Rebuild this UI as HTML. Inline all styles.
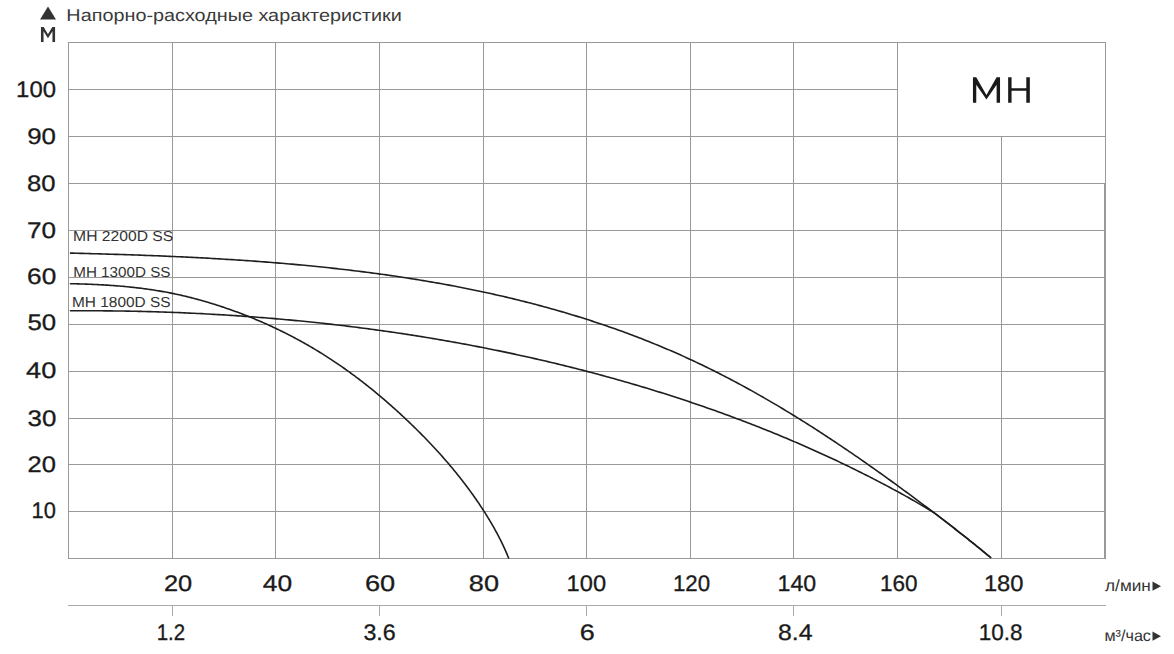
<!DOCTYPE html>
<html><head><meta charset="utf-8"><style>html,body{margin:0;padding:0;background:#fff;width:1174px;height:654px;overflow:hidden}svg{display:block}</style></head>
<body><svg width="1174" height="654" viewBox="0 0 1174 654">
<rect width="1174" height="654" fill="#fff"/>
<g stroke="#999" stroke-width="1" fill="none" shape-rendering="crispEdges"><line x1="68" y1="42.5" x2="1106" y2="42.5"/><line x1="68" y1="89.5" x2="898" y2="89.5"/><line x1="68" y1="136.5" x2="1106" y2="136.5"/><line x1="68" y1="183.5" x2="1106" y2="183.5"/><line x1="68" y1="230.5" x2="1106" y2="230.5"/><line x1="68" y1="277.5" x2="1106" y2="277.5"/><line x1="68" y1="324.5" x2="1106" y2="324.5"/><line x1="68" y1="371.5" x2="1106" y2="371.5"/><line x1="68" y1="418.5" x2="1106" y2="418.5"/><line x1="68" y1="464.5" x2="1106" y2="464.5"/><line x1="68" y1="511.5" x2="1106" y2="511.5"/><line x1="68" y1="558.5" x2="1106" y2="558.5"/><line x1="68.5" y1="42" x2="68.5" y2="559"/><line x1="172.5" y1="42" x2="172.5" y2="559"/><line x1="275.5" y1="42" x2="275.5" y2="559"/><line x1="379.5" y1="42" x2="379.5" y2="559"/><line x1="483.5" y1="42" x2="483.5" y2="559"/><line x1="586.5" y1="42" x2="586.5" y2="559"/><line x1="690.5" y1="42" x2="690.5" y2="559"/><line x1="793.5" y1="42" x2="793.5" y2="559"/><line x1="897.5" y1="42" x2="897.5" y2="559"/><line x1="1001.5" y1="136" x2="1001.5" y2="559"/><line x1="1105.5" y1="42" x2="1105.5" y2="559"/><line x1="1104.5" y1="183" x2="1104.5" y2="559"/><line x1="68" y1="605.5" x2="1106" y2="605.5" stroke="#aaa"/><line x1="172.5" y1="605" x2="172.5" y2="616" stroke="#aaa"/><line x1="379.5" y1="605" x2="379.5" y2="616" stroke="#aaa"/><line x1="586.5" y1="605" x2="586.5" y2="616" stroke="#aaa"/><line x1="793.5" y1="605" x2="793.5" y2="616" stroke="#aaa"/><line x1="1001.5" y1="605" x2="1001.5" y2="616" stroke="#aaa"/></g>
<g stroke="#1e1e1e" stroke-width="1.6" fill="none" stroke-linecap="round"><path d="M70.50,253.10 L72.96,253.16 L75.43,253.22 L77.89,253.29 L80.35,253.35 L82.82,253.41 L85.28,253.48 L87.75,253.54 L90.22,253.61 L92.68,253.68 L95.15,253.75 L97.62,253.81 L100.09,253.88 L102.57,253.96 L105.04,254.03 L107.51,254.10 L109.99,254.18 L112.46,254.25 L114.94,254.33 L117.41,254.41 L119.89,254.48 L122.37,254.56 L124.85,254.65 L127.33,254.73 L129.81,254.81 L132.29,254.90 L134.77,254.98 L137.25,255.07 L139.73,255.16 L142.22,255.25 L144.70,255.34 L147.18,255.44 L149.67,255.53 L152.15,255.63 L154.64,255.72 L157.13,255.82 L159.61,255.92 L162.10,256.03 L164.59,256.13 L167.08,256.24 L169.57,256.34 L172.06,256.45 L174.55,256.56 L177.04,256.68 L179.53,256.79 L182.02,256.91 L184.51,257.02 L187.00,257.14 L189.50,257.27 L191.99,257.39 L194.48,257.51 L196.97,257.64 L199.47,257.77 L201.96,257.90 L204.46,258.04 L206.95,258.17 L209.45,258.31 L211.94,258.45 L214.43,258.59 L216.93,258.73 L219.43,258.88 L221.92,259.03 L224.42,259.18 L226.91,259.33 L229.41,259.49 L231.90,259.64 L234.40,259.80 L236.90,259.96 L239.39,260.13 L241.89,260.29 L244.38,260.46 L246.88,260.64 L249.38,260.81 L251.87,260.99 L254.37,261.16 L256.87,261.35 L259.36,261.53 L261.86,261.72 L264.35,261.91 L266.85,262.10 L269.35,262.29 L271.84,262.49 L274.34,262.69 L276.83,262.89 L279.33,263.10 L281.82,263.30 L284.32,263.52 L286.81,263.73 L289.31,263.95 L291.80,264.17 L294.30,264.39 L296.79,264.61 L299.28,264.84 L301.78,265.07 L304.27,265.31 L306.76,265.55 L309.25,265.79 L311.75,266.03 L314.24,266.28 L316.73,266.53 L319.22,266.78 L321.71,267.03 L324.20,267.29 L326.69,267.56 L329.18,267.82 L331.67,268.09 L334.15,268.36 L336.64,268.64 L339.13,268.92 L341.61,269.20 L344.10,269.49 L346.59,269.78 L349.07,270.07 L351.55,270.37 L354.04,270.67 L356.52,270.97 L359.00,271.28 L361.49,271.59 L363.97,271.90 L366.45,272.22 L368.93,272.54 L371.41,272.87 L373.88,273.19 L376.36,273.53 L378.84,273.86 L381.32,274.20 L383.79,274.55 L386.27,274.90 L388.74,275.25 L391.21,275.60 L393.68,275.96 L396.16,276.32 L398.63,276.69 L401.10,277.06 L403.56,277.44 L406.03,277.82 L408.50,278.20 L410.97,278.59 L413.43,278.98 L415.89,279.38 L418.36,279.78 L420.82,280.18 L423.28,280.59 L425.74,281.00 L428.20,281.42 L430.66,281.84 L433.12,282.26 L435.57,282.69 L438.03,283.13 L440.48,283.57 L442.93,284.01 L445.39,284.46 L447.84,284.91 L450.29,285.37 L452.73,285.83 L455.18,286.29 L457.63,286.76 L460.07,287.24 L462.52,287.71 L464.96,288.20 L467.40,288.69 L469.84,289.18 L472.28,289.68 L474.71,290.18 L477.15,290.69 L479.58,291.20 L482.02,291.72 L484.45,292.24 L486.88,292.76 L489.31,293.30 L491.74,293.83 L494.16,294.37 L496.59,294.92 L499.01,295.47 L501.43,296.03 L503.85,296.59 L506.27,297.15 L508.69,297.73 L511.11,298.30 L513.52,298.88 L515.93,299.47 L518.34,300.06 L520.75,300.66 L523.16,301.26 L525.57,301.87 L527.97,302.48 L530.38,303.10 L532.78,303.72 L535.18,304.35 L537.58,304.99 L539.98,305.63 L542.37,306.27 L544.76,306.92 L547.16,307.58 L549.55,308.24 L551.93,308.91 L554.32,309.58 L556.71,310.26 L559.09,310.94 L561.47,311.63 L563.85,312.33 L566.23,313.03 L568.60,313.73 L570.98,314.45 L573.35,315.17 L575.72,315.89 L578.09,316.62 L580.45,317.35 L582.82,318.10 L585.18,318.84 L587.54,319.60 L589.90,320.35 L592.25,321.12 L594.61,321.89 L596.96,322.67 L599.31,323.45 L601.66,324.24 L604.01,325.04 L606.35,325.84 L608.69,326.64 L611.03,327.46 L613.37,328.28 L615.71,329.10 L618.04,329.94 L620.37,330.77 L622.70,331.62 L625.03,332.47 L627.35,333.33 L629.68,334.19 L632.00,335.06 L634.31,335.94 L636.63,336.82 L638.94,337.71 L641.26,338.60 L643.56,339.51 L645.87,340.42 L648.18,341.33 L650.48,342.25 L652.78,343.18 L655.07,344.12 L657.37,345.06 L659.66,346.01 L661.95,346.96 L664.24,347.93 L666.53,348.89 L668.81,349.87 L671.09,350.85 L673.37,351.84 L675.64,352.84 L677.91,353.84 L680.19,354.85 L682.45,355.87 L684.72,356.89 L686.98,357.92 L689.24,358.96 L691.50,360.00 L693.75,361.06 L696.01,362.11 L698.26,363.18 L700.50,364.25 L702.75,365.33 L704.99,366.42 L707.23,367.51 L709.46,368.61 L711.70,369.71 L713.93,370.83 L716.16,371.94 L718.38,373.07 L720.61,374.20 L722.83,375.34 L725.05,376.48 L727.26,377.63 L729.48,378.79 L731.69,379.95 L733.90,381.12 L736.10,382.29 L738.30,383.47 L740.50,384.66 L742.70,385.85 L744.90,387.05 L747.09,388.25 L749.28,389.46 L751.47,390.67 L753.65,391.89 L755.84,393.12 L758.01,394.35 L760.19,395.58 L762.37,396.82 L764.54,398.07 L766.71,399.32 L768.87,400.58 L771.04,401.84 L773.20,403.11 L775.36,404.38 L777.52,405.65 L779.67,406.93 L781.82,408.22 L783.97,409.51 L786.12,410.81 L788.26,412.11 L790.40,413.41 L792.54,414.72 L794.67,416.03 L796.81,417.35 L798.94,418.67 L801.07,420.00 L803.19,421.33 L805.32,422.66 L807.44,424.00 L809.55,425.34 L811.67,426.69 L813.78,428.04 L815.89,429.40 L818.00,430.75 L820.10,432.12 L822.21,433.48 L824.31,434.85 L826.40,436.22 L828.50,437.60 L830.59,438.98 L832.68,440.36 L834.77,441.75 L836.85,443.14 L838.94,444.54 L841.02,445.93 L843.09,447.33 L845.17,448.73 L847.24,450.14 L849.31,451.55 L851.37,452.96 L853.44,454.38 L855.50,455.79 L857.56,457.21 L859.62,458.64 L861.67,460.06 L863.72,461.49 L865.77,462.92 L867.82,464.36 L869.86,465.79 L871.90,467.23 L873.94,468.67 L875.98,470.11 L878.01,471.56 L880.04,473.00 L882.07,474.45 L884.10,475.90 L886.12,477.36 L888.14,478.81 L890.16,480.27 L892.18,481.73 L894.19,483.19 L896.20,484.65 L898.21,486.11 L900.21,487.58 L902.22,489.05 L904.22,490.52 L906.22,491.99 L908.21,493.46 L910.20,494.93 L912.20,496.40 L914.18,497.88 L916.17,499.35 L918.15,500.83 L920.13,502.31 L922.11,503.79 L924.09,505.27 L926.06,506.75 L928.03,508.23 L930.00,509.72 L931.97,511.21 L933.93,512.70 L935.89,514.19 L937.86,515.68 L939.82,517.18 L941.78,518.67 L943.73,520.18 L945.69,521.68 L947.64,523.19 L949.60,524.70 L951.55,526.21 L953.50,527.73 L955.46,529.25 L957.41,530.78 L959.36,532.31 L961.31,533.84 L963.26,535.38 L965.21,536.93 L967.16,538.47 L969.11,540.03 L971.06,541.59 L973.01,543.15 L974.96,544.72 L976.91,546.30 L978.87,547.88 L980.82,549.47 L982.77,551.06 L984.73,552.66 L986.68,554.27 L988.64,555.88 L990.60,557.50"/><path d="M70.50,310.80 L72.93,310.79 L75.35,310.77 L77.78,310.76 L80.21,310.76 L82.63,310.75 L85.06,310.75 L87.49,310.75 L89.92,310.76 L92.34,310.76 L94.77,310.77 L97.20,310.78 L99.63,310.80 L102.05,310.81 L104.48,310.83 L106.91,310.85 L109.34,310.87 L111.77,310.90 L114.19,310.93 L116.62,310.96 L119.05,310.99 L121.48,311.03 L123.91,311.07 L126.34,311.11 L128.77,311.15 L131.19,311.20 L133.62,311.25 L136.05,311.30 L138.48,311.35 L140.91,311.41 L143.34,311.47 L145.77,311.53 L148.19,311.60 L150.62,311.66 L153.05,311.73 L155.48,311.80 L157.91,311.88 L160.34,311.96 L162.77,312.04 L165.20,312.12 L167.62,312.20 L170.05,312.29 L172.48,312.38 L174.91,312.48 L177.34,312.57 L179.77,312.67 L182.20,312.77 L184.62,312.87 L187.05,312.98 L189.48,313.09 L191.91,313.20 L194.34,313.32 L196.76,313.43 L199.19,313.55 L201.62,313.67 L204.05,313.80 L206.47,313.93 L208.90,314.06 L211.33,314.19 L213.76,314.33 L216.18,314.47 L218.61,314.61 L221.04,314.75 L223.46,314.90 L225.89,315.05 L228.32,315.20 L230.74,315.35 L233.17,315.51 L235.59,315.67 L238.02,315.84 L240.45,316.00 L242.87,316.17 L245.30,316.34 L247.72,316.52 L250.15,316.69 L252.57,316.87 L255.00,317.06 L257.42,317.24 L259.84,317.43 L262.27,317.62 L264.69,317.81 L267.11,318.01 L269.54,318.21 L271.96,318.41 L274.38,318.62 L276.80,318.83 L279.23,319.04 L281.65,319.25 L284.07,319.47 L286.49,319.69 L288.91,319.91 L291.33,320.13 L293.75,320.36 L296.17,320.59 L298.59,320.82 L301.01,321.06 L303.43,321.30 L305.85,321.54 L308.27,321.79 L310.69,322.04 L313.11,322.29 L315.53,322.54 L317.94,322.80 L320.36,323.06 L322.78,323.32 L325.19,323.58 L327.61,323.85 L330.03,324.12 L332.44,324.40 L334.86,324.68 L337.27,324.96 L339.69,325.24 L342.10,325.52 L344.51,325.81 L346.93,326.11 L349.34,326.40 L351.75,326.70 L354.17,327.00 L356.58,327.30 L358.99,327.61 L361.40,327.92 L363.81,328.23 L366.22,328.55 L368.63,328.87 L371.04,329.19 L373.45,329.51 L375.86,329.84 L378.27,330.17 L380.67,330.50 L383.08,330.84 L385.49,331.18 L387.89,331.52 L390.30,331.87 L392.70,332.22 L395.11,332.57 L397.51,332.93 L399.92,333.28 L402.32,333.64 L404.72,334.01 L407.13,334.38 L409.53,334.75 L411.93,335.12 L414.33,335.50 L416.73,335.88 L419.13,336.26 L421.53,336.64 L423.93,337.03 L426.33,337.43 L428.73,337.82 L431.12,338.22 L433.52,338.62 L435.92,339.02 L438.31,339.43 L440.71,339.84 L443.10,340.26 L445.49,340.67 L447.89,341.09 L450.28,341.52 L452.67,341.94 L455.06,342.37 L457.46,342.81 L459.85,343.24 L462.24,343.68 L464.62,344.12 L467.01,344.57 L469.40,345.02 L471.79,345.47 L474.18,345.92 L476.56,346.38 L478.95,346.84 L481.33,347.31 L483.72,347.78 L486.10,348.25 L488.48,348.72 L490.87,349.20 L493.25,349.68 L495.63,350.16 L498.01,350.65 L500.39,351.14 L502.77,351.64 L505.14,352.13 L507.52,352.63 L509.90,353.14 L512.28,353.64 L514.65,354.15 L517.03,354.67 L519.40,355.18 L521.77,355.70 L524.15,356.23 L526.52,356.75 L528.89,357.28 L531.26,357.82 L533.63,358.35 L536.00,358.89 L538.37,359.44 L540.73,359.98 L543.10,360.53 L545.47,361.09 L547.83,361.64 L550.19,362.20 L552.56,362.76 L554.92,363.33 L557.28,363.90 L559.64,364.47 L562.01,365.05 L564.36,365.63 L566.72,366.21 L569.08,366.80 L571.44,367.39 L573.80,367.98 L576.15,368.58 L578.51,369.18 L580.86,369.78 L583.21,370.39 L585.56,371.00 L587.92,371.62 L590.27,372.23 L592.62,372.85 L594.96,373.48 L597.31,374.10 L599.66,374.74 L602.01,375.37 L604.35,376.01 L606.70,376.65 L609.04,377.29 L611.38,377.94 L613.72,378.59 L616.06,379.25 L618.40,379.91 L620.74,380.57 L623.08,381.24 L625.41,381.91 L627.75,382.58 L630.08,383.26 L632.42,383.94 L634.75,384.62 L637.08,385.31 L639.41,386.00 L641.74,386.69 L644.07,387.39 L646.40,388.09 L648.72,388.80 L651.05,389.51 L653.37,390.22 L655.69,390.94 L658.01,391.66 L660.33,392.38 L662.65,393.11 L664.97,393.84 L667.29,394.57 L669.60,395.31 L671.92,396.06 L674.23,396.80 L676.54,397.55 L678.85,398.30 L681.16,399.06 L683.47,399.82 L685.78,400.59 L688.08,401.36 L690.39,402.13 L692.69,402.90 L694.99,403.68 L697.29,404.47 L699.59,405.25 L701.89,406.05 L704.18,406.84 L706.48,407.64 L708.77,408.44 L711.07,409.25 L713.36,410.06 L715.65,410.87 L717.93,411.69 L720.22,412.51 L722.50,413.34 L724.79,414.17 L727.07,415.00 L729.35,415.84 L731.63,416.68 L733.91,417.53 L736.18,418.38 L738.46,419.23 L740.73,420.09 L743.00,420.95 L745.28,421.82 L747.54,422.69 L749.81,423.56 L752.08,424.44 L754.34,425.32 L756.60,426.21 L758.86,427.10 L761.12,427.99 L763.38,428.89 L765.64,429.79 L767.89,430.69 L770.14,431.60 L772.40,432.52 L774.64,433.44 L776.89,434.36 L779.14,435.29 L781.38,436.22 L783.63,437.15 L785.87,438.09 L788.11,439.03 L790.34,439.98 L792.58,440.93 L794.81,441.89 L797.05,442.84 L799.28,443.81 L801.50,444.78 L803.73,445.75 L805.96,446.72 L808.18,447.71 L810.40,448.69 L812.62,449.68 L814.84,450.67 L817.05,451.67 L819.27,452.67 L821.48,453.68 L823.69,454.69 L825.90,455.70 L828.11,456.72 L830.31,457.74 L832.51,458.77 L834.71,459.80 L836.91,460.84 L839.11,461.88 L841.31,462.93 L843.50,463.97 L845.69,465.03 L847.88,466.09 L850.06,467.15 L852.25,468.21 L854.43,469.29 L856.61,470.36 L858.79,471.44 L860.97,472.53 L863.14,473.61 L865.32,474.71 L867.49,475.81 L869.66,476.91 L871.82,478.01 L873.99,479.12 L876.15,480.24 L878.31,481.36 L880.47,482.48 L882.62,483.61 L884.77,484.75 L886.93,485.89 L889.07,487.03 L891.22,488.18 L893.36,489.33 L895.50,490.49 L897.64,491.65 L899.77,492.82 L901.90,494.00 L904.03,495.17 L906.16,496.36 L908.28,497.55 L910.39,498.75 L912.50,499.95 L914.61,501.16 L916.72,502.37 L918.82,503.60 L920.91,504.82 L923.01,506.06 L925.09,507.30 L927.17,508.54 L929.25,509.80 L931.32,511.06 L933.93,512.70 L935.89,514.19 L937.86,515.68 L939.82,517.18 L941.78,518.67 L943.73,520.18 L945.69,521.68 L947.64,523.19 L949.60,524.70 L951.55,526.21 L953.50,527.73 L955.46,529.25 L957.41,530.78 L959.36,532.31 L961.31,533.84 L963.26,535.38 L965.21,536.93 L967.16,538.47 L969.11,540.03 L971.06,541.59 L973.01,543.15 L974.96,544.72 L976.91,546.30 L978.87,547.88 L980.82,549.47 L982.77,551.06 L984.73,552.66 L986.68,554.27 L988.64,555.88 L990.60,557.50"/><path d="M70.50,283.70 L71.87,283.73 L73.24,283.76 L74.60,283.79 L75.97,283.82 L77.34,283.86 L78.71,283.89 L80.08,283.93 L81.45,283.97 L82.81,284.01 L84.18,284.06 L85.55,284.10 L86.92,284.15 L88.29,284.20 L89.65,284.26 L91.02,284.31 L92.39,284.37 L93.76,284.43 L95.12,284.49 L96.49,284.56 L97.86,284.62 L99.23,284.69 L100.59,284.77 L101.96,284.84 L103.32,284.92 L104.69,285.00 L106.06,285.08 L107.42,285.17 L108.79,285.25 L110.15,285.35 L111.52,285.44 L112.88,285.54 L114.24,285.64 L115.61,285.74 L116.97,285.85 L118.33,285.96 L119.69,286.07 L121.06,286.18 L122.42,286.30 L123.78,286.42 L125.14,286.55 L126.50,286.68 L127.86,286.81 L129.21,286.95 L130.57,287.09 L131.93,287.23 L133.29,287.38 L134.64,287.53 L136.00,287.68 L137.36,287.84 L138.71,288.00 L140.06,288.16 L141.42,288.33 L142.77,288.50 L144.12,288.68 L145.47,288.86 L146.82,289.04 L148.17,289.23 L149.52,289.43 L150.87,289.62 L152.22,289.82 L153.57,290.03 L154.91,290.24 L156.26,290.45 L157.60,290.67 L158.94,290.89 L160.29,291.12 L161.63,291.35 L162.97,291.59 L164.31,291.83 L165.65,292.07 L166.99,292.32 L168.32,292.58 L169.66,292.84 L171.00,293.10 L172.33,293.37 L173.66,293.64 L175.00,293.92 L176.33,294.20 L177.66,294.49 L178.99,294.79 L180.31,295.08 L181.64,295.39 L182.97,295.69 L184.29,296.00 L185.62,296.32 L186.94,296.64 L188.26,296.96 L189.59,297.29 L190.91,297.63 L192.23,297.97 L193.54,298.31 L194.86,298.66 L196.18,299.01 L197.49,299.36 L198.81,299.72 L200.12,300.09 L201.44,300.45 L202.75,300.82 L204.06,301.20 L205.37,301.58 L206.68,301.96 L207.99,302.35 L209.30,302.74 L210.60,303.14 L211.91,303.54 L213.21,303.94 L214.52,304.35 L215.82,304.76 L217.12,305.18 L218.42,305.60 L219.72,306.02 L221.02,306.45 L222.32,306.88 L223.62,307.31 L224.91,307.75 L226.21,308.19 L227.50,308.64 L228.79,309.08 L230.08,309.54 L231.37,309.99 L232.66,310.46 L233.95,310.92 L235.24,311.39 L236.52,311.86 L237.81,312.34 L239.09,312.81 L240.37,313.30 L241.65,313.79 L242.93,314.28 L244.21,314.77 L245.48,315.27 L246.76,315.77 L248.03,316.28 L249.30,316.79 L250.57,317.30 L251.84,317.81 L253.11,318.33 L254.38,318.86 L255.64,319.39 L256.91,319.92 L258.17,320.45 L259.43,320.99 L260.69,321.53 L261.94,322.08 L263.20,322.63 L264.45,323.18 L265.71,323.74 L266.96,324.30 L268.21,324.86 L269.45,325.43 L270.70,326.00 L271.94,326.58 L273.19,327.16 L274.43,327.74 L275.67,328.32 L276.90,328.91 L278.14,329.51 L279.37,330.10 L280.60,330.70 L281.83,331.31 L283.06,331.91 L284.29,332.52 L285.51,333.14 L286.73,333.76 L287.95,334.38 L289.17,335.00 L290.39,335.63 L291.60,336.26 L292.82,336.90 L294.03,337.54 L295.24,338.18 L296.44,338.83 L297.65,339.47 L298.85,340.13 L300.05,340.78 L301.25,341.44 L302.44,342.11 L303.64,342.77 L304.83,343.44 L306.02,344.12 L307.21,344.79 L308.39,345.47 L309.57,346.16 L310.76,346.85 L311.93,347.54 L313.11,348.23 L314.28,348.93 L315.46,349.63 L316.63,350.33 L317.79,351.04 L318.96,351.75 L320.12,352.47 L321.28,353.19 L322.44,353.91 L323.59,354.63 L324.74,355.36 L325.90,356.09 L327.04,356.83 L328.19,357.56 L329.33,358.30 L330.47,359.05 L331.61,359.80 L332.75,360.55 L333.88,361.30 L335.01,362.06 L336.14,362.82 L337.27,363.58 L338.40,364.35 L339.52,365.12 L340.64,365.89 L341.76,366.67 L342.87,367.45 L343.99,368.23 L345.10,369.01 L346.21,369.80 L347.32,370.59 L348.42,371.39 L349.52,372.19 L350.62,372.99 L351.72,373.79 L352.82,374.60 L353.91,375.41 L355.01,376.22 L356.09,377.03 L357.18,377.85 L358.27,378.67 L359.35,379.50 L360.43,380.32 L361.51,381.15 L362.59,381.99 L363.66,382.82 L364.74,383.66 L365.81,384.50 L366.88,385.34 L367.94,386.19 L369.01,387.04 L370.07,387.89 L371.13,388.74 L372.19,389.60 L373.25,390.46 L374.30,391.32 L375.36,392.19 L376.41,393.06 L377.46,393.93 L378.50,394.80 L379.55,395.68 L380.59,396.55 L381.63,397.44 L382.67,398.32 L383.71,399.20 L384.74,400.09 L385.78,400.98 L386.81,401.88 L387.84,402.77 L388.86,403.67 L389.89,404.57 L390.91,405.47 L391.94,406.38 L392.96,407.29 L393.97,408.20 L394.99,409.11 L396.00,410.03 L397.02,410.94 L398.03,411.86 L399.04,412.78 L400.04,413.71 L401.05,414.64 L402.05,415.56 L403.06,416.50 L404.06,417.43 L405.05,418.36 L406.05,419.30 L407.05,420.24 L408.04,421.18 L409.03,422.13 L410.02,423.08 L411.01,424.02 L411.99,424.98 L412.98,425.93 L413.96,426.88 L414.94,427.84 L415.92,428.80 L416.89,429.76 L417.86,430.73 L418.84,431.70 L419.81,432.66 L420.77,433.64 L421.74,434.61 L422.70,435.59 L423.66,436.56 L424.62,437.54 L425.57,438.53 L426.53,439.51 L427.48,440.50 L428.43,441.49 L429.37,442.48 L430.32,443.47 L431.26,444.47 L432.20,445.47 L433.14,446.47 L434.07,447.47 L435.00,448.48 L435.93,449.49 L436.86,450.50 L437.78,451.51 L438.70,452.53 L439.62,453.54 L440.54,454.56 L441.45,455.59 L442.36,456.61 L443.27,457.64 L444.17,458.67 L445.07,459.70 L445.97,460.73 L446.87,461.77 L447.76,462.81 L448.65,463.85 L449.54,464.89 L450.42,465.93 L451.30,466.98 L452.18,468.03 L453.06,469.09 L453.93,470.14 L454.80,471.20 L455.66,472.26 L456.53,473.32 L457.39,474.39 L458.24,475.45 L459.09,476.52 L459.94,477.59 L460.79,478.67 L461.63,479.75 L462.47,480.82 L463.31,481.91 L464.14,482.99 L464.97,484.08 L465.80,485.17 L466.62,486.26 L467.44,487.35 L468.25,488.45 L469.06,489.55 L469.87,490.65 L470.68,491.75 L471.48,492.86 L472.28,493.97 L473.07,495.08 L473.86,496.19 L474.64,497.31 L475.43,498.43 L476.20,499.55 L476.98,500.67 L477.75,501.80 L478.52,502.92 L479.28,504.05 L480.04,505.19 L480.79,506.32 L481.54,507.46 L482.29,508.60 L483.03,509.75 L483.77,510.89 L484.51,512.04 L485.24,513.19 L485.96,514.35 L486.69,515.50 L487.40,516.66 L488.12,517.82 L488.83,518.99 L489.53,520.16 L490.23,521.33 L490.92,522.50 L491.61,523.68 L492.30,524.85 L492.98,526.04 L493.65,527.22 L494.32,528.41 L494.98,529.60 L495.64,530.80 L496.29,532.00 L496.94,533.20 L497.58,534.40 L498.22,535.61 L498.85,536.82 L499.47,538.04 L500.09,539.26 L500.70,540.48 L501.31,541.71 L501.91,542.94 L502.50,544.17 L503.09,545.41 L503.67,546.65 L504.25,547.89 L504.82,549.14 L505.38,550.39 L505.93,551.65 L506.48,552.91 L507.02,554.18 L507.56,555.45 L508.08,556.72 L508.60,558.00"/></g>
<g font-family="Liberation Sans, sans-serif"><text x="66.37" y="21.00" font-size="17.2" fill="#3a3a3a" font-weight="normal" text-rendering="geometricPrecision" textLength="335.42" lengthAdjust="spacingAndGlyphs">Напорно-расходные характеристики</text><text x="16.11" y="96.90" font-size="22.5" fill="#1a1a1a" font-weight="normal" text-rendering="geometricPrecision" textLength="39.81" lengthAdjust="spacingAndGlyphs" stroke="#1a1a1a" stroke-width="0.3">100</text><text x="27.24" y="143.60" font-size="22.5" fill="#1a1a1a" font-weight="normal" text-rendering="geometricPrecision" textLength="28.76" lengthAdjust="spacingAndGlyphs" stroke="#1a1a1a" stroke-width="0.3">90</text><text x="26.96" y="190.60" font-size="22.5" fill="#1a1a1a" font-weight="normal" text-rendering="geometricPrecision" textLength="28.55" lengthAdjust="spacingAndGlyphs" stroke="#1a1a1a" stroke-width="0.3">80</text><text x="27.01" y="238.10" font-size="22.5" fill="#1a1a1a" font-weight="normal" text-rendering="geometricPrecision" textLength="29.05" lengthAdjust="spacingAndGlyphs" stroke="#1a1a1a" stroke-width="0.3">70</text><text x="27.11" y="284.00" font-size="22.5" fill="#1a1a1a" font-weight="normal" text-rendering="geometricPrecision" textLength="29.14" lengthAdjust="spacingAndGlyphs" stroke="#1a1a1a" stroke-width="0.3">60</text><text x="27.53" y="330.40" font-size="22.5" fill="#1a1a1a" font-weight="normal" text-rendering="geometricPrecision" textLength="28.70" lengthAdjust="spacingAndGlyphs" stroke="#1a1a1a" stroke-width="0.3">50</text><text x="26.05" y="378.20" font-size="22.5" fill="#1a1a1a" font-weight="normal" text-rendering="geometricPrecision" textLength="30.23" lengthAdjust="spacingAndGlyphs" stroke="#1a1a1a" stroke-width="0.3">40</text><text x="27.57" y="425.60" font-size="22.5" fill="#1a1a1a" font-weight="normal" text-rendering="geometricPrecision" textLength="28.79" lengthAdjust="spacingAndGlyphs" stroke="#1a1a1a" stroke-width="0.3">30</text><text x="27.53" y="472.00" font-size="22.5" fill="#1a1a1a" font-weight="normal" text-rendering="geometricPrecision" textLength="28.40" lengthAdjust="spacingAndGlyphs" stroke="#1a1a1a" stroke-width="0.3">20</text><text x="31.52" y="517.70" font-size="22.5" fill="#1a1a1a" font-weight="normal" text-rendering="geometricPrecision" textLength="24.29" lengthAdjust="spacingAndGlyphs" stroke="#1a1a1a" stroke-width="0.3">10</text><text x="73.13" y="241.00" font-size="14.5" fill="#333" font-weight="normal" text-rendering="geometricPrecision" textLength="100.13" lengthAdjust="spacingAndGlyphs">MH 2200D SS</text><text x="73.24" y="277.40" font-size="14.5" fill="#333" font-weight="normal" text-rendering="geometricPrecision" textLength="97.26" lengthAdjust="spacingAndGlyphs">MH 1300D SS</text><text x="72.04" y="306.60" font-size="14.5" fill="#333" font-weight="normal" text-rendering="geometricPrecision" textLength="98.55" lengthAdjust="spacingAndGlyphs">MH 1800D SS</text><text x="163.93" y="590.80" font-size="22.5" fill="#1a1a1a" font-weight="normal" text-rendering="geometricPrecision" textLength="28.25" lengthAdjust="spacingAndGlyphs" stroke="#1a1a1a" stroke-width="0.3">20</text><text x="262.77" y="590.80" font-size="22.5" fill="#1a1a1a" font-weight="normal" text-rendering="geometricPrecision" textLength="29.35" lengthAdjust="spacingAndGlyphs" stroke="#1a1a1a" stroke-width="0.3">40</text><text x="364.96" y="590.80" font-size="22.5" fill="#1a1a1a" font-weight="normal" text-rendering="geometricPrecision" textLength="30.26" lengthAdjust="spacingAndGlyphs" stroke="#1a1a1a" stroke-width="0.3">60</text><text x="468.84" y="590.80" font-size="22.5" fill="#1a1a1a" font-weight="normal" text-rendering="geometricPrecision" textLength="30.17" lengthAdjust="spacingAndGlyphs" stroke="#1a1a1a" stroke-width="0.3">80</text><text x="566.63" y="590.80" font-size="22.5" fill="#1a1a1a" font-weight="normal" text-rendering="geometricPrecision" textLength="39.44" lengthAdjust="spacingAndGlyphs" stroke="#1a1a1a" stroke-width="0.3">100</text><text x="672.89" y="590.80" font-size="22.5" fill="#1a1a1a" font-weight="normal" text-rendering="geometricPrecision" textLength="37.17" lengthAdjust="spacingAndGlyphs" stroke="#1a1a1a" stroke-width="0.3">120</text><text x="777.64" y="590.80" font-size="22.5" fill="#1a1a1a" font-weight="normal" text-rendering="geometricPrecision" textLength="38.61" lengthAdjust="spacingAndGlyphs" stroke="#1a1a1a" stroke-width="0.3">140</text><text x="879.88" y="590.80" font-size="22.5" fill="#1a1a1a" font-weight="normal" text-rendering="geometricPrecision" textLength="37.53" lengthAdjust="spacingAndGlyphs" stroke="#1a1a1a" stroke-width="0.3">160</text><text x="983.91" y="590.80" font-size="22.5" fill="#1a1a1a" font-weight="normal" text-rendering="geometricPrecision" textLength="39.63" lengthAdjust="spacingAndGlyphs" stroke="#1a1a1a" stroke-width="0.3">180</text><text x="156.70" y="639.70" font-size="22.5" fill="#1a1a1a" font-weight="normal" text-rendering="geometricPrecision" textLength="28.48" lengthAdjust="spacingAndGlyphs" stroke="#1a1a1a" stroke-width="0.3">1.2</text><text x="363.41" y="639.70" font-size="22.5" fill="#1a1a1a" font-weight="normal" text-rendering="geometricPrecision" textLength="32.27" lengthAdjust="spacingAndGlyphs" stroke="#1a1a1a" stroke-width="0.3">3.6</text><text x="579.88" y="639.70" font-size="22.5" fill="#1a1a1a" font-weight="normal" text-rendering="geometricPrecision" textLength="14.96" lengthAdjust="spacingAndGlyphs" stroke="#1a1a1a" stroke-width="0.3">6</text><text x="778.07" y="639.70" font-size="22.5" fill="#1a1a1a" font-weight="normal" text-rendering="geometricPrecision" textLength="34.49" lengthAdjust="spacingAndGlyphs" stroke="#1a1a1a" stroke-width="0.3">8.4</text><text x="978.78" y="639.70" font-size="22.5" fill="#1a1a1a" font-weight="normal" text-rendering="geometricPrecision" textLength="43.90" lengthAdjust="spacingAndGlyphs" stroke="#1a1a1a" stroke-width="0.3">10.8</text><text x="1105.07" y="590.80" font-size="16.2" fill="#333" font-weight="normal" text-rendering="geometricPrecision" textLength="45.81" lengthAdjust="spacingAndGlyphs">л/мин</text><text x="1104.47" y="640.70" font-size="16.0" fill="#333" font-weight="normal" text-rendering="geometricPrecision" textLength="46.49" lengthAdjust="spacingAndGlyphs">м³/час</text></g>
<path d="M48,6.5 L56,19.6 L40,19.6 Z" fill="#333"/><path fill="#333" d="M40.95,42 L40.95,26.95 L43.7,26.95 L47.95,34.3 L52.3,26.95 L55.08,26.95 L55.08,42 L52.45,42 L52.45,31.3 L47.95,38.3 L43.55,31.3 L43.55,42 Z"/><path fill="#1a1a1a" d="M972.95,102.82 L972.95,77.23 L976.26,77.23 L986.44,95.12 L996.62,77.23 L1000.03,77.23 L1000.03,102.82 L996.62,102.82 L996.62,84.66 L986.44,99.52 L976.26,84.66 L976.26,102.82 Z"/><path fill="#1a1a1a" d="M1008.15,77.23 H1011.56 V88.24 H1026.3 V77.23 H1029.83 V102.82 H1026.3 V90.71 H1011.56 V102.82 H1008.15 Z"/><path d="M1152.5,581.6 L1161,586.2 L1152.5,590.8 Z" fill="#333"/><path d="M1152.5,631.6 L1161,636.2 L1152.5,640.8 Z" fill="#333"/>
</svg></body></html>
